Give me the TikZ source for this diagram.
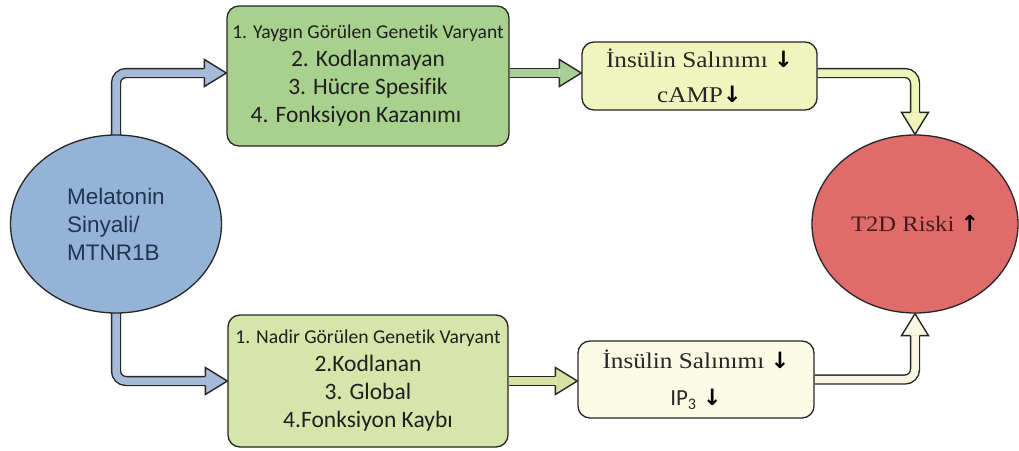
\documentclass[tikz,border=0pt]{standalone}
\usepackage{fontspec}
\setmainfont{Liberation Serif}
\newfontfamily\calib[Ligatures=NoCommon]{Carlito}
\newfontfamily\arial{Liberation Sans}
\newfontfamily\camb[FakeStretch=1.12]{Liberation Serif}
\newfontfamily\arrfont{DejaVu Sans}
\usetikzlibrary{shapes.geometric,calc}
\pgfdeclarelayer{back}
\pgfdeclarelayer{bg}
\pgfsetlayers{back,bg,main}
\definecolor{melblue}{HTML}{95B3D7}
\definecolor{arrblue}{HTML}{A6BADA}
\definecolor{gonec}{HTML}{A9D18E}
\definecolor{gtwoc}{HTML}{D7E4AA}
\definecolor{yonec}{HTML}{EFF5BD}
\definecolor{ytwoc}{HTML}{FCFCE6}
\definecolor{riskred}{HTML}{E06B6B}
\definecolor{arrgreen}{HTML}{A9CF98}
\definecolor{arrolive}{HTML}{D5E2A4}
\definecolor{arryel}{HTML}{EEF5B8}
\definecolor{arrcream}{HTML}{F8F8E2}
\definecolor{meltext}{HTML}{1F3552}
\definecolor{risktext}{HTML}{4B1A1A}
\definecolor{edge}{HTML}{262626}
\newcommand\dnarr{{\arrfont\bfseries\color{black}↓}}
\newcommand\uparr{{\arrfont\bfseries\color{black}↑}}
\newcommand\headR[2]{\filldraw[headst, fill=#2] ($(#1)+(-22,-4.45)$) -- ($(#1)+(-22,-13.5)$) -- (#1) -- ($(#1)+(-22,13.5)$) -- ($(#1)+(-22,4.45)$);}
\newcommand\headD[2]{\filldraw[headst, fill=#2] ($(#1)+(-4.45,-22)$) -- ($(#1)+(-13.5,-22)$) -- (#1) -- ($(#1)+(13.5,-22)$) -- ($(#1)+(4.45,-22)$);}
\newcommand\headU[2]{\filldraw[headst, fill=#2] ($(#1)+(-4.45,22)$) -- ($(#1)+(-13.5,22)$) -- (#1) -- ($(#1)+(13.5,22)$) -- ($(#1)+(4.45,22)$);}
\begin{document}
\begin{tikzpicture}[x=1pt,y=-1pt,
  ell/.style={ellipse, draw=edge, line width=1.3pt, inner sep=0pt},
  box/.style={rectangle, rounded corners=12pt, draw=edge, line width=1.3pt, inner sep=0pt, align=center},
  shaft/.style={draw=edge, line width=1.4pt, double distance=7.5pt, rounded corners=10pt},
  headst/.style={draw=edge, line width=1.4pt, line join=miter}]
\begin{pgfonlayer}{back}
\fill[white] (0,0) rectangle (1019,450);
\end{pgfonlayer}
\useasboundingbox (0,0) rectangle (1019,450);

\node[ell, fill=melblue, minimum width=211pt, minimum height=178pt,
  font=\arial\fontsize{22.5}{28}\selectfont, text=meltext, align=left] (mel) at (116,224)
  {Melatonin\\Sinyali/\\MTNR1B};
\node[ell, fill=riskred, minimum width=206pt, minimum height=178pt,
  font=\camb\fontsize{22}{24}\selectfont, text=risktext] (risk) at (915,224)
  {T2D Riski \uparr};

\node[box, fill=gonec, minimum width=282pt, minimum height=140pt,
  font=\calib\fontsize{23.5}{28}\selectfont, text=black!88] (g1) at (368,76)
  {{\fontsize{19.6}{28}\selectfont 1. Yaygın Görülen Genetik Varyant}\\
   2. Kodlanmayan\hspace*{36pt}\\
   3. Hücre Spesifik\hspace*{36pt}\\
   4. Fonksiyon Kazanımı\hspace*{24pt}};
\node[box, fill=gtwoc, minimum width=280pt, minimum height=132pt,
  font=\calib\fontsize{23.5}{28}\selectfont, text=black!88] (g2) at (368,381)
  {{\fontsize{19.6}{28}\selectfont 1. Nadir Görülen Genetik Varyant}\\
   2.Kodlanan\\
   3. Global\\
   4.Fonksiyon Kaybı};

\node[box, fill=yonec, minimum width=235pt, minimum height=68pt,
  font=\camb\fontsize{22.5}{35}\selectfont, text=black!85] (y1) at (699.5,76)
  {İnsülin Salınımı \dnarr\\cAMP\dnarr};
\node[box, fill=ytwoc, minimum width=236pt, minimum height=77pt,
  font=\camb\fontsize{22.5}{37}\selectfont, text=black!85] (y2) at (696,379.5)
  {İnsülin Salınımı \dnarr\\{\calib\fontsize{23}{37}\selectfont IP\textsubscript{3}} \dnarr};

\coordinate (t1) at ($(g1.west)+(0,-3)$);
\coordinate (t2) at (g2.west);
\coordinate (t3) at ($(y1.west)+(0,-3)$);
\coordinate (s3) at ($(g1.east)+(0,-3)$);
\coordinate (t4) at (g2.east -| y2.west);
\coordinate (s5) at ($(y1.east)+(0,-3)$);
\coordinate (t5) at (risk.north);
\coordinate (t6) at (risk.south);

\begin{pgfonlayer}{bg}
\draw[shaft, double=arrblue] ($(mel.north)+(0,4)$) |- ($(t1)+(-22,0)$);
\headR{t1}{arrblue}
\draw[shaft, double=arrblue] ($(mel.south)+(0,-4)$) |- ($(t2)+(-22,0)$);
\headR{t2}{arrblue}
\draw[shaft, double=arrgreen] (s3) -- ($(t3)+(-22,0)$);
\headR{t3}{arrgreen}
\draw[shaft, double=arrolive] (g2.east) -- ($(t4)+(-22,0)$);
\headR{t4}{arrolive}
\draw[shaft, double=arryel] (s5) -| ($(t5)+(0,-22)$);
\headD{t5}{arryel}
\draw[shaft, double=arrcream] (y2.east) -| ($(t6)+(0,22)$);
\headU{t6}{arrcream}
\end{pgfonlayer}
\end{tikzpicture}
\end{document}
